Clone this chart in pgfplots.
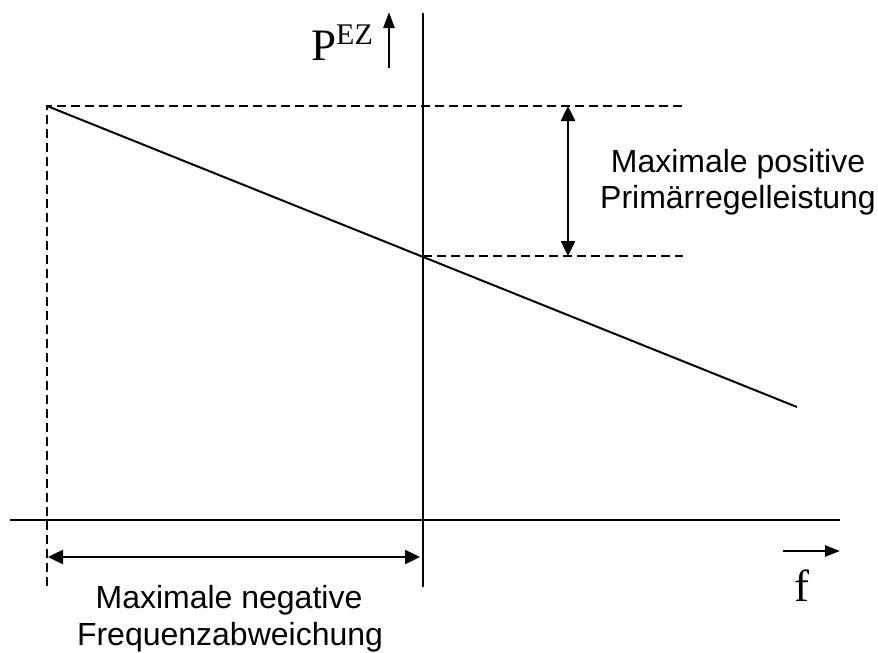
\documentclass[border=0pt]{standalone}
\usepackage{pgfplots}
\pgfplotsset{compat=1.18}
\usetikzlibrary{arrows.meta}
\usepackage{fontspec}
\setmainfont{Liberation Serif}
\newfontfamily\arial{Liberation Sans}
\begin{document}
\begin{tikzpicture}
\begin{axis}[
  scale only axis, width=878pt, height=653pt,
  xmin=0, xmax=878, ymin=0, ymax=653, y dir=reverse,
  hide axis, clip=false,
]
\path (axis cs:0,0) rectangle (axis cs:878,653);
% axes
\addplot[black, line width=2pt] coordinates {(10,520) (840,520)};
\addplot[black, line width=2pt] coordinates {(423,13) (423,587)};
% characteristic line
\addplot[black, line width=2pt] coordinates {(47,106) (797,407)};
% dashed helper lines
\addplot[black, line width=1.7pt, dash pattern=on 9pt off 5pt] coordinates {(47,586) (47,106) (683,106)};
\addplot[black, line width=1.7pt, dash pattern=on 9pt off 5pt] coordinates {(423,256) (683,256)};
% double arrows
\addplot[black, line width=2.5pt, {Triangle[length=15pt,width=14pt]}-{Triangle[length=15pt,width=14pt]}] coordinates {(568,106) (568,256)};
\addplot[black, line width=2.5pt, {Triangle[length=15pt,width=14pt]}-{Triangle[length=15pt,width=14pt]}] coordinates {(48,557) (420,557)};
% axis direction arrows
\addplot[black, line width=2.5pt, -{Triangle[length=16pt,width=11pt]}] coordinates {(389,68) (389,12)};
\addplot[black, line width=2.5pt, -{Triangle[length=15pt,width=11pt]}] coordinates {(783,551) (840,551)};
% labels
\node[anchor=base west, inner sep=0pt] at (axis cs:311,60) {\fontsize{45}{45}\selectfont P\raisebox{16pt}{\fontsize{30}{30}\selectfont EZ}};
\node[anchor=base west, inner sep=0pt] at (axis cs:794,601) {\fontsize{45}{45}\selectfont f};
\node[anchor=base, inner sep=0pt] at (axis cs:738,172) {\arial\fontsize{32}{32}\selectfont Maximale positive};
\node[anchor=base, inner sep=0pt] at (axis cs:738,208) {\arial\fontsize{32}{32}\selectfont Primärregelleistung};
\node[anchor=base, inner sep=0pt] at (axis cs:229,608) {\arial\fontsize{32}{32}\selectfont Maximale negative};
\node[anchor=base, inner sep=0pt] at (axis cs:230,645) {\arial\fontsize{32}{32}\selectfont Frequenzabweichung};
\end{axis}
\end{tikzpicture}
\end{document}
